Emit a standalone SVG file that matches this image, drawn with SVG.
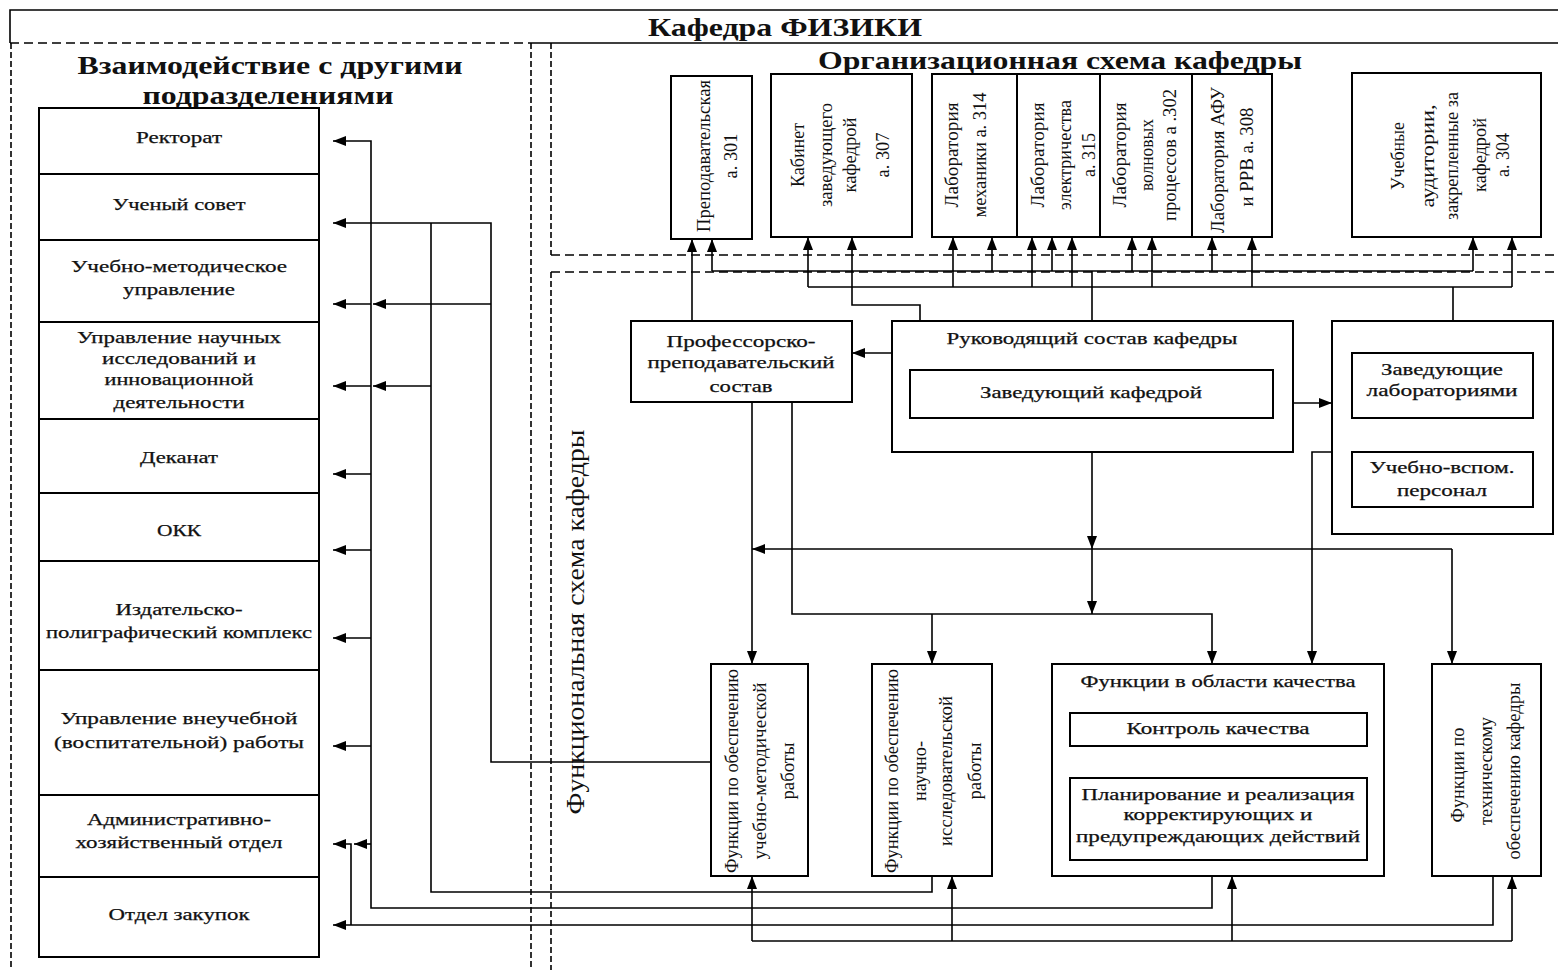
<svg xmlns="http://www.w3.org/2000/svg" width="1558" height="970" viewBox="0 0 1558 970">
<style>
.box{fill:#fff;stroke:#000;stroke-width:2}
.ln{fill:none;stroke:#000;stroke-width:1.6}
.ar{fill:none;stroke:#000;stroke-width:1.6;marker-end:url(#ah)}
.dh{fill:none;stroke:#000;stroke-width:1.6;stroke-dasharray:9 5}
.dv{fill:none;stroke:#000;stroke-width:1.6;stroke-dasharray:6 3}
text{font-family:"Liberation Serif","Times New Roman",serif;fill:#111;text-anchor:middle}
.t{font-size:16px;stroke:#111;stroke-width:0.25}
.tv{font-size:18px}
.h{font-size:25px;font-weight:bold}
.fv{font-size:26px}
</style>
<defs>
<marker id="ah" markerWidth="13" markerHeight="10" refX="13" refY="5" orient="auto" markerUnits="userSpaceOnUse"><path d="M0,0 L13,5 L0,10 z" fill="#000"/></marker>
</defs>
<rect width="1558" height="970" fill="#fff"/>

<g id="frame">
<path class="ln" d="M10,43 V10 H1558 M531,43 H1558"/>
<path class="dh" d="M10,43 H531"/>
<path class="dv" d="M11,43 V970 M531,43 V970 M551,43 V255 M551,272 V970"/>
<path class="dh" d="M551,255 H1558 M551,272 H1558"/>
<text class="h" x="785" y="36" textLength="274" lengthAdjust="spacingAndGlyphs">Кафедра ФИЗИКИ</text>
<text class="h" x="270" y="74" textLength="385" lengthAdjust="spacingAndGlyphs">Взаимодействие с другими</text>
<text class="h" x="268" y="104" textLength="251" lengthAdjust="spacingAndGlyphs">подразделениями</text>
<text class="h" x="1060" y="69" textLength="484" lengthAdjust="spacingAndGlyphs">Организационная схема кафедры</text>
<text class="fv" transform="translate(584,622) rotate(-90)" textLength="385" lengthAdjust="spacingAndGlyphs">Функциональная схема кафедры</text>
</g>

<g id="connectors">
<path class="ar" d="M692,321 V239"/>
<path class="ln" d="M712,271 H1473 M1092,321 V271"/>
<path class="ar" d="M712,271 V239"/>
<path class="ar" d="M992,271 V237"/>
<path class="ar" d="M1052,271 V237"/>
<path class="ar" d="M1132,271 V237"/>
<path class="ar" d="M1212,271 V237"/>
<path class="ar" d="M1473,271 V237"/>
<path class="ln" d="M808,287 H1512 M1453,321 V287"/>
<path class="ar" d="M808,287 V237"/>
<path class="ar" d="M953,287 V237"/>
<path class="ar" d="M1032,287 V237"/>
<path class="ar" d="M1072,287 V237"/>
<path class="ar" d="M1152,287 V237"/>
<path class="ar" d="M1252,287 V237"/>
<path class="ar" d="M1512,287 V237"/>
<path class="ar" d="M920,321 V305 H852 V237"/>

<path class="ar" d="M892,353 H852"/>
<path class="ar" d="M1293,403 H1332"/>
<path class="ar" d="M1332,452 H1312 V664"/>
<path class="ar" d="M1092,452 V549"/>
<path class="ar" d="M1092,549 V614"/>
<path class="ar" d="M1452,549 H752"/>
<path class="ar" d="M1452,549 V664"/>
<path class="ar" d="M752,402 V664"/>
<path class="ar" d="M792,402 V614 H1212 V664"/>
<path class="ar" d="M932,614 V664"/>

<path class="ar" d="M711,762 H491 V223 H333"/>
<path class="ar" d="M491,304 H373"/>
<path class="ar" d="M371,304 H333"/>
<path class="ln" d="M932,876 V892 H431 V223"/>
<path class="ar" d="M431,386 H373"/>
<path class="ar" d="M371,386 H333"/>
<path class="ar" d="M1212,876 V908 H371 V141 H333"/>
<path class="ar" d="M371,474 H333"/>
<path class="ar" d="M371,550 H333"/>
<path class="ar" d="M371,638 H333"/>
<path class="ar" d="M371,746 H333"/>
<path class="ar" d="M371,844 H354"/>
<path class="ar" d="M1493,876 V925 H333"/>
<path class="ar" d="M351,925 V844 H333"/>
<path class="ln" d="M752,941 H1512"/>
<path class="ar" d="M752,941 V876"/>
<path class="ar" d="M952,941 V876"/>
<path class="ar" d="M1232,941 V876"/>
<path class="ar" d="M1512,941 V876"/>
</g>

<g id="n-rektorat"><rect class="box" x="39" y="108" width="280" height="66"/><text class="t" x="179" y="143" textLength="86" lengthAdjust="spacingAndGlyphs">Ректорат</text></g>
<g id="n-uchsovet"><rect class="box" x="39" y="174" width="280" height="66"/><text class="t" x="179" y="210" textLength="133" lengthAdjust="spacingAndGlyphs">Ученый совет</text></g>
<g id="n-umu"><rect class="box" x="39" y="240" width="280" height="82"/><text class="t" x="179" y="272" textLength="216" lengthAdjust="spacingAndGlyphs">Учебно-методическое</text><text class="t" x="179" y="295" textLength="112" lengthAdjust="spacingAndGlyphs">управление</text></g>
<g id="n-uni"><rect class="box" x="39" y="322" width="280" height="97"/><text class="t" x="179" y="343" textLength="204" lengthAdjust="spacingAndGlyphs">Управление научных</text><text class="t" x="179" y="364" textLength="154" lengthAdjust="spacingAndGlyphs">исследований и</text><text class="t" x="179" y="385" textLength="149" lengthAdjust="spacingAndGlyphs">инновационной</text><text class="t" x="179" y="408" textLength="131" lengthAdjust="spacingAndGlyphs">деятельности</text></g>
<g id="n-dekanat"><rect class="box" x="39" y="419" width="280" height="74"/><text class="t" x="179" y="463" textLength="78" lengthAdjust="spacingAndGlyphs">Деканат</text></g>
<g id="n-okk"><rect class="box" x="39" y="493" width="280" height="68"/><text class="t" x="179" y="536" textLength="44" lengthAdjust="spacingAndGlyphs">ОКК</text></g>
<g id="n-ipk"><rect class="box" x="39" y="561" width="280" height="109"/><text class="t" x="179" y="615" textLength="127" lengthAdjust="spacingAndGlyphs">Издательско-</text><text class="t" x="179" y="638" textLength="266" lengthAdjust="spacingAndGlyphs">полиграфический комплекс</text></g>
<g id="n-uvr"><rect class="box" x="39" y="670" width="280" height="125"/><text class="t" x="179" y="724" textLength="237" lengthAdjust="spacingAndGlyphs">Управление внеучебной</text><text class="t" x="179" y="748" textLength="250" lengthAdjust="spacingAndGlyphs">(воспитательной) работы</text></g>
<g id="n-aho"><rect class="box" x="39" y="795" width="280" height="82"/><text class="t" x="179" y="825" textLength="184" lengthAdjust="spacingAndGlyphs">Административно-</text><text class="t" x="179" y="848" textLength="207" lengthAdjust="spacingAndGlyphs">хозяйственный отдел</text></g>
<g id="n-zakupki"><rect class="box" x="39" y="877" width="280" height="80"/><text class="t" x="179" y="920" textLength="141" lengthAdjust="spacingAndGlyphs">Отдел закупок</text></g>

<g id="n-a301"><rect class="box" x="671" y="76" width="81" height="163"/>
<text class="tv" transform="translate(710,156) rotate(-90)" textLength="152" lengthAdjust="spacingAndGlyphs">Преподавательская</text>
<text class="tv" transform="translate(737,156) rotate(-90)" textLength="45" lengthAdjust="spacingAndGlyphs">а. 301</text></g>
<g id="n-a307"><rect class="box" x="771" y="74" width="141" height="163"/>
<text class="tv" transform="translate(804,155) rotate(-90)" textLength="64" lengthAdjust="spacingAndGlyphs">Кабинет</text>
<text class="tv" transform="translate(832,155) rotate(-90)" textLength="104" lengthAdjust="spacingAndGlyphs">заведующего</text>
<text class="tv" transform="translate(856,155) rotate(-90)" textLength="75" lengthAdjust="spacingAndGlyphs">кафедрой</text>
<text class="tv" transform="translate(889,155) rotate(-90)" textLength="45" lengthAdjust="spacingAndGlyphs">а. 307</text></g>
<g id="n-a314"><rect class="box" x="932" y="74" width="85" height="163"/>
<text class="tv" transform="translate(958,155) rotate(-90)" textLength="105" lengthAdjust="spacingAndGlyphs">Лаборатория</text>
<text class="tv" transform="translate(986,155) rotate(-90)" textLength="125" lengthAdjust="spacingAndGlyphs">механики а. 314</text></g>
<g id="n-a315"><rect class="box" x="1017" y="74" width="83" height="163"/>
<text class="tv" transform="translate(1044,155) rotate(-90)" textLength="105" lengthAdjust="spacingAndGlyphs">Лаборатория</text>
<text class="tv" transform="translate(1071,155) rotate(-90)" textLength="110" lengthAdjust="spacingAndGlyphs">электричества</text>
<text class="tv" transform="translate(1095,155) rotate(-90)" textLength="44" lengthAdjust="spacingAndGlyphs">а. 315</text></g>
<g id="n-a302"><rect class="box" x="1100" y="74" width="92" height="163"/>
<text class="tv" transform="translate(1126,155) rotate(-90)" textLength="105" lengthAdjust="spacingAndGlyphs">Лаборатория</text>
<text class="tv" transform="translate(1153,155) rotate(-90)" textLength="72" lengthAdjust="spacingAndGlyphs">волновых</text>
<text class="tv" transform="translate(1176,155) rotate(-90)" textLength="132" lengthAdjust="spacingAndGlyphs">процессов а .302</text></g>
<g id="n-a308"><rect class="box" x="1192" y="74" width="80" height="163"/>
<text class="tv" transform="translate(1224,160) rotate(-90)" textLength="146" lengthAdjust="spacingAndGlyphs">Лаборатория АФУ</text>
<text class="tv" transform="translate(1253,157) rotate(-90)" textLength="99" lengthAdjust="spacingAndGlyphs">и РРВ а. 308</text></g>
<g id="n-a304"><rect class="box" x="1352" y="73" width="189" height="164"/>
<text class="tv" transform="translate(1404,156) rotate(-90)" textLength="68" lengthAdjust="spacingAndGlyphs">Учебные</text>
<text class="tv" transform="translate(1434,156) rotate(-90)" textLength="103" lengthAdjust="spacingAndGlyphs">аудитории,</text>
<text class="tv" transform="translate(1458,156) rotate(-90)" textLength="128" lengthAdjust="spacingAndGlyphs">закрепленные за</text>
<text class="tv" transform="translate(1486,155) rotate(-90)" textLength="74" lengthAdjust="spacingAndGlyphs">кафедрой</text>
<text class="tv" transform="translate(1509,155) rotate(-90)" textLength="44" lengthAdjust="spacingAndGlyphs">а. 304</text></g>

<g id="n-pps"><rect class="box" x="631" y="321" width="221" height="81"/>
<text class="t" x="741" y="347" textLength="149" lengthAdjust="spacingAndGlyphs">Профессорско-</text>
<text class="t" x="741" y="368" textLength="187" lengthAdjust="spacingAndGlyphs">преподавательский</text>
<text class="t" x="741" y="392" textLength="63" lengthAdjust="spacingAndGlyphs">состав</text></g>
<g id="n-ruk"><rect class="box" x="892" y="321" width="401" height="131"/>
<text class="t" x="1092" y="344" textLength="291" lengthAdjust="spacingAndGlyphs">Руководящий состав кафедры</text>
<rect class="box" x="910" y="370" width="363" height="48"/>
<text class="t" x="1091" y="398" textLength="222" lengthAdjust="spacingAndGlyphs">Заведующий кафедрой</text></g>
<g id="n-staff"><rect class="box" x="1332" y="321" width="221" height="213"/>
<rect class="box" x="1352" y="353" width="181" height="65"/>
<text class="t" x="1442" y="375" textLength="122" lengthAdjust="spacingAndGlyphs">Заведующие</text>
<text class="t" x="1442" y="396" textLength="151" lengthAdjust="spacingAndGlyphs">лабораториями</text>
<rect class="box" x="1352" y="452" width="181" height="55"/>
<text class="t" x="1442" y="473" textLength="145" lengthAdjust="spacingAndGlyphs">Учебно-вспом.</text>
<text class="t" x="1442" y="496" textLength="90" lengthAdjust="spacingAndGlyphs">персонал</text></g>

<g id="n-f-umr"><rect class="box" x="711" y="664" width="97" height="212"/>
<text class="tv" transform="translate(738,771) rotate(-90)" textLength="204" lengthAdjust="spacingAndGlyphs">Функции по обеспечению</text>
<text class="tv" transform="translate(766,771) rotate(-90)" textLength="177" lengthAdjust="spacingAndGlyphs">учебно-методической</text>
<text class="tv" transform="translate(794,771) rotate(-90)" textLength="57" lengthAdjust="spacingAndGlyphs">работы</text></g>
<g id="n-f-nir"><rect class="box" x="872" y="664" width="120" height="212"/>
<text class="tv" transform="translate(898,771) rotate(-90)" textLength="204" lengthAdjust="spacingAndGlyphs">Функции по обеспечению</text>
<text class="tv" transform="translate(926,771) rotate(-90)" textLength="60" lengthAdjust="spacingAndGlyphs">научно-</text>
<text class="tv" transform="translate(952,771) rotate(-90)" textLength="150" lengthAdjust="spacingAndGlyphs">исследовательской</text>
<text class="tv" transform="translate(981,771) rotate(-90)" textLength="57" lengthAdjust="spacingAndGlyphs">работы</text></g>
<g id="n-f-q"><rect class="box" x="1052" y="664" width="332" height="212"/>
<text class="t" x="1218" y="687" textLength="275" lengthAdjust="spacingAndGlyphs">Функции в области качества</text>
<rect class="box" x="1070" y="713" width="297" height="33"/>
<text class="t" x="1218" y="734" textLength="183" lengthAdjust="spacingAndGlyphs">Контроль качества</text>
<rect class="box" x="1070" y="778" width="297" height="82"/>
<text class="t" x="1218" y="800" textLength="273" lengthAdjust="spacingAndGlyphs">Планирование и реализация</text>
<text class="t" x="1218" y="820" textLength="189" lengthAdjust="spacingAndGlyphs">корректирующих и</text>
<text class="t" x="1218" y="842" textLength="284" lengthAdjust="spacingAndGlyphs">предупреждающих действий</text></g>
<g id="n-f-tech"><rect class="box" x="1432" y="664" width="109" height="212"/>
<text class="tv" transform="translate(1464,775) rotate(-90)" textLength="95" lengthAdjust="spacingAndGlyphs">Функции по</text>
<text class="tv" transform="translate(1492,771) rotate(-90)" textLength="108" lengthAdjust="spacingAndGlyphs">техническому</text>
<text class="tv" transform="translate(1520,771) rotate(-90)" textLength="177" lengthAdjust="spacingAndGlyphs">обеспечению кафедры</text></g>
</svg>
